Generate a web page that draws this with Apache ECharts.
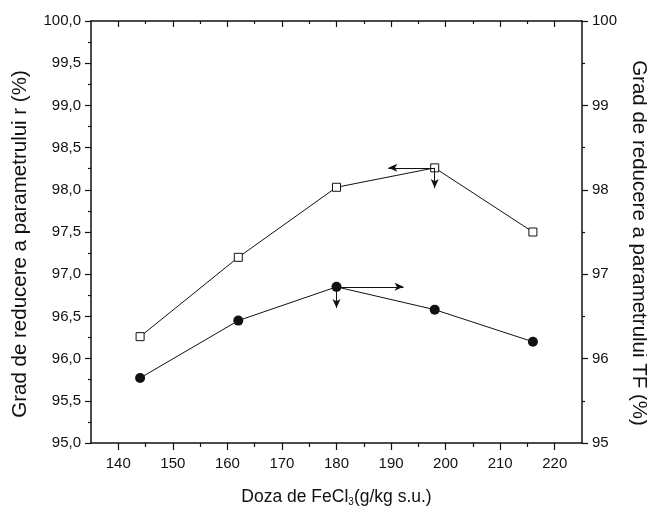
<!DOCTYPE html>
<html>
<head>
<meta charset="utf-8">
<script src="https://cdn.jsdelivr.net/npm/echarts@6/dist/echarts.min.js"></script>
<style>
  html, body { margin: 0; padding: 0; background: #fff; }
  #chart { width: 647px; height: 508px; }
</style>
</head>
<body>
<div id="chart"></div>
<script>
// FeCl3 dose (g/kg s.u.)
const doses = [144, 162, 180, 198, 216]
// reduction of parameter r (%), left axis, open squares
const reductionR = [96.26, 97.2, 98.03, 98.26, 97.5]
// reduction of parameter TF (%), right axis, filled circles
const reductionTF = [95.77, 96.45, 96.85, 96.58, 96.2]

const xMajorTicks = [140, 150, 160, 170, 180, 190, 200, 210, 220]
const xMinorTicks = [145, 155, 165, 175, 185, 195, 205, 215]

// arrows pointing each curve to its axis
const arrowR = [[198, 98.26], [189.5, 98.26], [198, 98.02]]
const arrowTF = [[180, 96.85], [192.3, 96.85], [180, 96.6]]

const ink = '#111'
const font = 'Liberation Sans, Arial, sans-serif'

const chart = echarts.init(document.getElementById('chart'), null, { renderer: 'canvas' })

const baseX = {
  type: 'value',
  min: 135,
  max: 225,
  splitLine: { show: false },
  axisLine: { show: true, onZero: false, lineStyle: { color: ink, width: 1.5 } }
}

const option = {
  animation: false,
  backgroundColor: '#fff',
  grid: { left: 91, right: 65, top: 21, bottom: 65, outerBoundsMode: 'none', containLabel: false },
  xAxis: [
    {
      ...baseX,
      position: 'bottom',
      axisTick: { show: true, customValues: xMajorTicks, length: 7, lineStyle: { color: ink, width: 1.2 } },
      axisLabel: {
        customValues: xMajorTicks,
        color: ink, fontFamily: font, fontSize: 15, margin: 13
      },
      name: '{a|Doza de FeCl}{s|3}{a|(g/kg s.u.)}',
      nameLocation: 'middle',
      nameGap: 45,
      nameTextStyle: {
        rich: {
          a: { fontFamily: font, fontSize: 17.5, color: ink },
          s: { fontFamily: font, fontSize: 10, color: ink, padding: [9, 0, 0, 0] }
        }
      }
    },
    {
      ...baseX,
      position: 'bottom',
      axisLine: { show: false },
      axisTick: { show: true, customValues: xMinorTicks, length: 4, lineStyle: { color: ink, width: 1.2 } },
      axisLabel: { show: false }
    },
    {
      ...baseX,
      position: 'top',
      axisTick: { show: true, inside: true, customValues: xMajorTicks, length: 6, lineStyle: { color: ink, width: 1.2 } },
      axisLabel: { show: false }
    },
    {
      ...baseX,
      position: 'top',
      axisLine: { show: false },
      axisTick: { show: true, inside: true, customValues: xMinorTicks, length: 3, lineStyle: { color: ink, width: 1.2 } },
      axisLabel: { show: false }
    }
  ],
  yAxis: [
    {
      type: 'value',
      position: 'left',
      min: 95,
      max: 100,
      interval: 0.5,
      splitLine: { show: false },
      axisLine: { show: true, lineStyle: { color: ink, width: 1.5 } },
      axisTick: { show: true, length: 6, lineStyle: { color: ink, width: 1.2 } },
      minorTick: { show: true, splitNumber: 2, length: 3, lineStyle: { color: ink, width: 1.2 } },
      minorSplitLine: { show: false },
      axisLabel: {
        color: ink, fontFamily: font, fontSize: 15, margin: 10,
        formatter: v => v.toFixed(1).replace('.', ',')
      },
      name: 'Grad de reducere a parametrului r (%)',
      nameLocation: 'middle',
      nameGap: 60,
      nameRotate: 90,
      nameTextStyle: { fontFamily: font, fontSize: 20.5, color: ink, padding: [0, 24, 0, 0] }
    },
    {
      type: 'value',
      position: 'right',
      min: 95,
      max: 100,
      interval: 1,
      splitLine: { show: false },
      axisLine: { show: true, lineStyle: { color: ink, width: 1.5 } },
      axisTick: { show: true, length: 6, lineStyle: { color: ink, width: 1.2 } },
      minorTick: { show: true, splitNumber: 2, length: 3, lineStyle: { color: ink, width: 1.2 } },
      minorSplitLine: { show: false },
      axisLabel: { color: ink, fontFamily: font, fontSize: 15, margin: 10 },
      name: 'Grad de reducere a parametrului TF (%)',
      nameLocation: 'middle',
      nameGap: 26,
      nameRotate: -90,
      nameTextStyle: { fontFamily: font, fontSize: 20.5, color: ink, padding: [0, 0, 0, 22] }
    }
  ],
  series: [
    {
      name: 'r',
      type: 'line',
      xAxisIndex: 0,
      yAxisIndex: 0,
      data: doses.map((d, i) => [d, reductionR[i]]),
      symbol: 'rect',
      symbolSize: 8,
      showAllSymbol: true,
      lineStyle: { color: ink, width: 1 },
      itemStyle: { color: '#fff', borderColor: ink, borderWidth: 1 },
      z: 3,
      markLine: {
        silent: true,
        symbol: ['none', 'arrow'],
        symbolSize: [6, 9],
        label: { show: false },
        lineStyle: { color: ink, width: 1, type: 'solid' },
        data: [
          [{ coord: arrowR[0] }, { coord: arrowR[1] }],
          [{ coord: arrowR[0] }, { coord: arrowR[2] }]
        ]
      }
    },
    {
      name: 'TF',
      type: 'line',
      xAxisIndex: 0,
      yAxisIndex: 1,
      data: doses.map((d, i) => [d, reductionTF[i]]),
      symbol: 'circle',
      symbolSize: 10,
      showAllSymbol: true,
      lineStyle: { color: ink, width: 1 },
      itemStyle: { color: ink },
      z: 3,
      markLine: {
        silent: true,
        symbol: ['none', 'arrow'],
        symbolSize: [6, 9],
        label: { show: false },
        lineStyle: { color: ink, width: 1, type: 'solid' },
        data: [
          [{ coord: arrowTF[0] }, { coord: arrowTF[1] }],
          [{ coord: arrowTF[0] }, { coord: arrowTF[2] }]
        ]
      }
    }
  ]
}

chart.setOption(option)
</script>
</body>
</html>
